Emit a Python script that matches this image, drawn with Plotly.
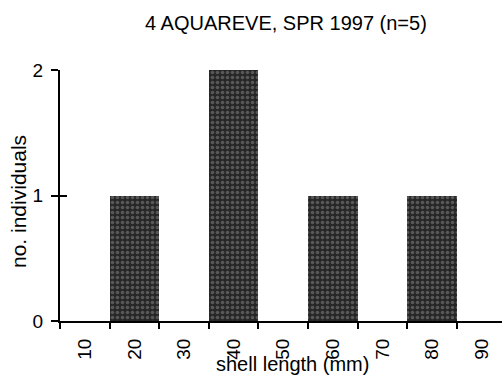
import plotly.graph_objects as go

# Data
bin_centers = [20, 40, 60, 80]
counts = [1, 2, 1, 1]
tick_labels = [10, 20, 30, 40, 50, 60, 70, 80, 90]
y_ticks = [0, 1, 2]

title_text = "4 AQUAREVE, SPR 1997 (n=5)"
x_title = "shell length (mm)"
y_title = "no. individuals"

FONT = "Liberation Sans, Arial, sans-serif"

fig = go.Figure()
fig.add_trace(go.Bar(
    x=bin_centers, y=counts, width=10,
    marker=dict(
        color="#2a2a2a",
        line=dict(width=0),
        pattern=dict(shape=".", fgcolor="#8a8a8a", bgcolor="#262626", size=5, solidity=0.4),
    ),
    showlegend=False,
))
fig.add_trace(go.Scatter(x=[None], y=[None], yaxis="y2", showlegend=False))

L, R, T, B = 60, 0, 70, 55
W, H = 502, 376

fig.update_layout(
    width=W, height=H,
    margin=dict(l=L, r=R, t=T, b=B, autoexpand=False),
    paper_bgcolor="white", plot_bgcolor="white",
    font=dict(family=FONT, size=19, color="black"),
    bargap=0,
    xaxis=dict(
        range=[5, 94.1], automargin=False,
        tickmode="array", tickvals=tick_labels, ticktext=[str(t) for t in tick_labels],
        tickangle=-90, ticks="", ticklabelstandoff=8,
        showline=True, linecolor="black", linewidth=2,
        showgrid=False, zeroline=False,
        minor=dict(tickmode="linear", tick0=5, dtick=10, ticks="outside", ticklen=6,
                   tickwidth=2, tickcolor="black", showgrid=False),
        tickfont=dict(size=19),
    ),
    yaxis=dict(
        range=[0, 2], automargin=False, tickmode="array", tickvals=y_ticks,
        ticks="outside", ticklen=7, tickwidth=2, tickcolor="black",
        showline=True, linecolor="black", linewidth=2,
        showgrid=False, zeroline=False, ticklabelstandoff=4,
        tickfont=dict(size=19),
    ),
    yaxis2=dict(
        range=[0, 2], overlaying="y", side="left", tickmode="array", tickvals=[1, 2],
        ticks="inside", ticklen=7, tickwidth=2, tickcolor="black", automargin=False,
        showticklabels=False, showline=False, showgrid=False, zeroline=False,
    ),
)

pw = W - L - R
ph = H - T - B

def ann(text, px_, py_, size, angle=0):
    return dict(text=text, xref="paper", yref="paper",
                x=(px_ - L) / pw, y=(H - B - py_) / ph,
                xanchor="center", yanchor="middle", showarrow=False,
                textangle=angle, font=dict(size=size))

fig.update_layout(annotations=[
    ann(title_text, 286, 23, 20),
    ann(x_title, 292, 364, 20),
    ann(y_title, 18, 202, 21, -90),
])

fig.write_html("out.html", config={"displayModeBar": False},
               post_script="document.body.style.margin='0';document.body.style.overflow='hidden';")
